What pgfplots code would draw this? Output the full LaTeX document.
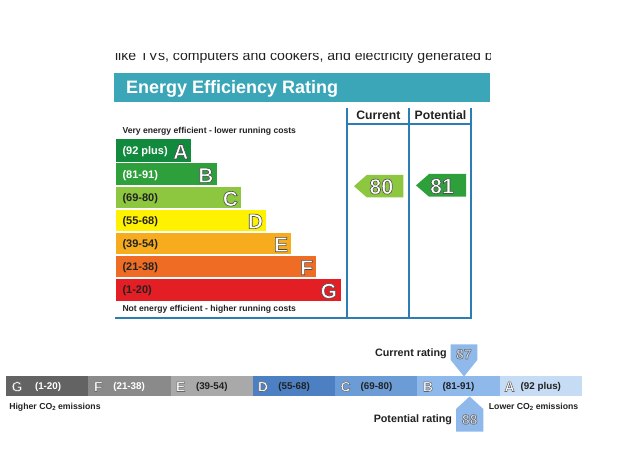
\documentclass[border=0pt]{standalone}
\usepackage{pgfplots}
\pgfplotsset{compat=1.18}
\usepackage{fontspec}
\setmainfont{Liberation Sans}
\definecolor{hdr}{HTML}{3BA6B8}
\definecolor{lin}{HTML}{2B7DB4}
\definecolor{eA}{HTML}{128A3D}
\definecolor{eB}{HTML}{2EA03B}
\definecolor{eC}{HTML}{8DC63F}
\definecolor{eD}{HTML}{FFF200}
\definecolor{eE}{HTML}{F7AC1E}
\definecolor{eF}{HTML}{EF6C25}
\definecolor{eG}{HTML}{E31E24}
\definecolor{cG}{HTML}{636363}
\definecolor{cF}{HTML}{8A8A8A}
\definecolor{cE}{HTML}{A9A9A9}
\definecolor{cD}{HTML}{4D80C3}
\definecolor{cC}{HTML}{6C9CD5}
\definecolor{cB}{HTML}{8FB9EA}
\definecolor{cA}{HTML}{C5DCF4}
\definecolor{txt}{HTML}{222222}
\newcommand\fs[1]{\fontsize{#1}{#1}\selectfont}
% outlined text: x, y, options, fill colour, stroke rgb, stroke width, text
\newcommand\ot[7]{%
\node[inner sep=0,outer sep=0,#3,text=#4] at (axis cs:#1,#2) {\special{pdf:code #5 RG #6 w 2 Tr}#7};}
\newcommand\tx[4]{\node[inner sep=0,outer sep=0,#3] at (axis cs:#1,#2) {#4};}
\newcommand\cotwo{CO\raisebox{-0.35ex}{\fs{6}2}}
\begin{document}
\begin{tikzpicture}
\begin{axis}[at={(0,0)},anchor=south west,width=627pt,height=462pt,scale only axis,
  xmin=0,xmax=627,ymin=0,ymax=462,y dir=reverse,hide axis,clip=false]
% background
\addplot[fill=white,draw=none] coordinates {(0,0)(627,0)(627,462)(0,462)} -- cycle;
% top cut-off text
\tx{115}{61}{anchor=base west,text=txt,font=\fs{14.1}}{like TVs, computers and cookers, and electricity generated by}
\addplot[fill=white,draw=none] coordinates {(100,0)(520,0)(520,53.5)(100,53.5)} -- cycle;
\addplot[fill=white,draw=none] coordinates {(490.5,40)(560,40)(560,70)(490.5,70)} -- cycle;
% header
\addplot[fill=hdr,draw=none] coordinates {(114,73)(490,73)(490,102.3)(114,102.3)} -- cycle;
\tx{126}{93.3}{anchor=base west,text=white,font=\fs{18}\bfseries}{Energy Efficiency Rating}
% column frame
\addplot[lin,line width=2pt] coordinates {(346.7,108)(346.7,318.3)};
\addplot[lin,line width=2pt] coordinates {(409.3,108)(409.3,318.3)};
\addplot[lin,line width=2pt] coordinates {(471,108)(471,318.3)};
\addplot[lin,line width=2pt] coordinates {(346.7,124)(471,124)};
\addplot[lin,line width=2pt] coordinates {(115,318.3)(472,318.3)};
\tx{378.3}{119.5}{anchor=base,text=txt,font=\fs{12.2}\bfseries}{Current}
\tx{440.5}{119.5}{anchor=base,text=txt,font=\fs{12.2}\bfseries}{Potential}
\tx{122.5}{133.1}{anchor=base west,text=txt,font=\fs{8.6}\bfseries}{Very energy efficient - lower running costs}
\tx{122.5}{311.4}{anchor=base west,text=txt,font=\fs{8.6}\bfseries}{Not energy efficient - higher running costs}
% bands
\addplot[fill=eA,draw=none] coordinates {(116,139.3)(191,139.3)(191,161.7)(116,161.7)} -- cycle;
\addplot[fill=eB,draw=none] coordinates {(116,163.3)(216.5,163.3)(216.5,185)(116,185)} -- cycle;
\addplot[fill=eC,draw=none] coordinates {(116,186.7)(241,186.7)(241,208.3)(116,208.3)} -- cycle;
\addplot[fill=eD,draw=none] coordinates {(116,209.8)(266,209.8)(266,231.2)(116,231.2)} -- cycle;
\addplot[fill=eE,draw=none] coordinates {(116,232.9)(291,232.9)(291,254.3)(116,254.3)} -- cycle;
\addplot[fill=eF,draw=none] coordinates {(116,255.9)(316,255.9)(316,277.2)(116,277.2)} -- cycle;
\addplot[fill=eG,draw=none] coordinates {(116,278.9)(341,278.9)(341,300.7)(116,300.7)} -- cycle;
\tx{122.5}{154.7}{anchor=base west,text=white,font=\fs{11}\bfseries}{(92 plus)}
\tx{122.5}{178.3}{anchor=base west,text=white,font=\fs{11}\bfseries}{(81-91)}
\tx{122.5}{201.7}{anchor=base west,text=txt,font=\fs{11}\bfseries}{(69-80)}
\tx{122.5}{224.5}{anchor=base west,text=txt,font=\fs{11}\bfseries}{(55-68)}
\tx{122.5}{247.6}{anchor=base west,text=txt,font=\fs{11}\bfseries}{(39-54)}
\tx{122.5}{270.6}{anchor=base west,text=txt,font=\fs{11}\bfseries}{(21-38)}
\tx{122.5}{293.8}{anchor=base west,text=txt,font=\fs{11}\bfseries}{(1-20)}
\ot{188.3}{159}{anchor=base east,font=\fs{21}\bfseries}{white}{0.3 0.3 0.3}{0.6}{A}
\ot{213.5}{182.6}{anchor=base east,font=\fs{21}\bfseries}{white}{0.3 0.3 0.3}{0.6}{B}
\ot{238}{206}{anchor=base east,font=\fs{21}\bfseries}{white}{0.3 0.3 0.3}{0.6}{C}
\ot{263}{228.6}{anchor=base east,font=\fs{21}\bfseries}{white}{0.3 0.3 0.3}{0.6}{D}
\ot{288}{251.8}{anchor=base east,font=\fs{21}\bfseries}{white}{0.3 0.3 0.3}{0.6}{E}
\ot{313}{274.8}{anchor=base east,font=\fs{21}\bfseries}{white}{0.3 0.3 0.3}{0.6}{F}
\ot{337}{298.2}{anchor=base east,font=\fs{21}\bfseries}{white}{0.3 0.3 0.3}{0.6}{G}
% rating arrows
\addplot[fill=eC,draw=none] coordinates {(354,186.2)(366.7,175)(403.3,175)(403.3,197.3)(366.7,197.3)} -- cycle;
\addplot[fill=eB,draw=none] coordinates {(416,185.4)(429,174)(466,174)(466,196.7)(429,196.7)} -- cycle;
\ot{381.3}{194}{anchor=base,font=\fs{21.5}\bfseries}{white}{0.3 0.3 0.3}{0.6}{80}
\ot{442}{193.5}{anchor=base,font=\fs{21.5}\bfseries}{white}{0.3 0.3 0.3}{0.6}{81}
% CO2 bar
\addplot[fill=cG,draw=none] coordinates {(6,376.5)(88.3,376.5)(88.3,396)(6,396)} -- cycle;
\addplot[fill=cF,draw=none] coordinates {(88.3,376.5)(170.6,376.5)(170.6,396)(88.3,396)} -- cycle;
\addplot[fill=cE,draw=none] coordinates {(170.6,376.5)(252.8,376.5)(252.8,396)(170.6,396)} -- cycle;
\addplot[fill=cD,draw=none] coordinates {(252.8,376.5)(335.1,376.5)(335.1,396)(252.8,396)} -- cycle;
\addplot[fill=cC,draw=none] coordinates {(335.1,376.5)(417.4,376.5)(417.4,396)(335.1,396)} -- cycle;
\addplot[fill=cB,draw=none] coordinates {(417.4,376.5)(499.6,376.5)(499.6,396)(417.4,396)} -- cycle;
\addplot[fill=cA,draw=none] coordinates {(499.6,376.5)(581.9,376.5)(581.9,396)(499.6,396)} -- cycle;
\ot{11.5}{391.5}{anchor=base west,font=\fs{14}\bfseries}{white}{0.4 0.4 0.4}{0.5}{G}
\ot{94}{391.5}{anchor=base west,font=\fs{14}\bfseries}{white}{0.4 0.4 0.4}{0.5}{F}
\ot{176}{391.5}{anchor=base west,font=\fs{14}\bfseries}{white}{0.4 0.4 0.4}{0.5}{E}
\ot{258}{391.5}{anchor=base west,font=\fs{14}\bfseries}{white}{0.4 0.4 0.4}{0.5}{D}
\ot{340.5}{391.5}{anchor=base west,font=\fs{14}\bfseries}{white}{0.4 0.4 0.4}{0.5}{C}
\ot{423}{391.5}{anchor=base west,font=\fs{14}\bfseries}{white}{0.4 0.4 0.4}{0.5}{B}
\ot{504.5}{391.5}{anchor=base west,font=\fs{14}\bfseries}{white}{0.4 0.4 0.4}{0.5}{A}
\tx{35}{389.8}{anchor=base west,text=white,font=\fs{9.8}\bfseries}{(1-20)}
\tx{113.3}{389.8}{anchor=base west,text=white,font=\fs{9.8}\bfseries}{(21-38)}
\tx{196}{389.8}{anchor=base west,text=txt,font=\fs{9.8}\bfseries}{(39-54)}
\tx{278.3}{389.8}{anchor=base west,text=txt,font=\fs{9.8}\bfseries}{(55-68)}
\tx{360.7}{389.8}{anchor=base west,text=txt,font=\fs{9.8}\bfseries}{(69-80)}
\tx{442.7}{389.8}{anchor=base west,text=txt,font=\fs{9.8}\bfseries}{(81-91)}
\tx{520.7}{389.8}{anchor=base west,text=txt,font=\fs{9.8}\bfseries}{(92 plus)}
\tx{9.3}{409.1}{anchor=base west,text=txt,font=\fs{8.7}\bfseries}{Higher \cotwo{} emissions}
\tx{578.3}{409.1}{anchor=base east,text=txt,font=\fs{8.7}\bfseries}{Lower \cotwo{} emissions}
% rating markers
\addplot[fill=cB,draw=none] coordinates {(450.7,344.3)(477.3,344.3)(477.3,360)(464,376.5)(450.7,360)} -- cycle;
\addplot[fill=cB,draw=none] coordinates {(456,431.7)(483.3,431.7)(483.3,409)(469.6,396.5)(456,409)} -- cycle;
\ot{463.8}{359}{anchor=base,font=\fs{14}\bfseries}{cB!40!white}{0.42 0.42 0.42}{0.6}{87}
\ot{469.7}{424.3}{anchor=base,font=\fs{14}\bfseries}{cB!40!white}{0.42 0.42 0.42}{0.6}{88}
\tx{446.7}{356.1}{anchor=base east,text=txt,font=\fs{10.75}\bfseries}{Current rating}
\tx{452}{422.9}{anchor=base east,text=txt,font=\fs{10.75}\bfseries}{Potential rating}
\end{axis}
\end{tikzpicture}
\end{document}
